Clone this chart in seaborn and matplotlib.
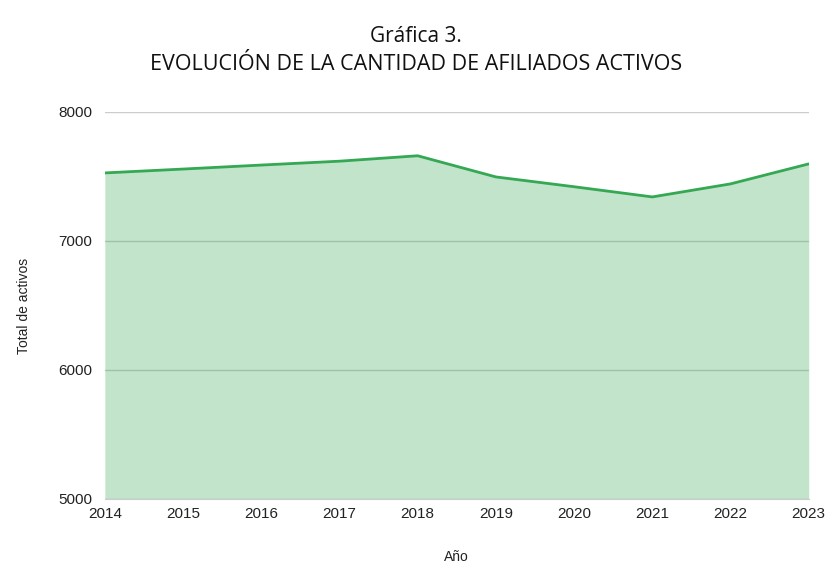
import pandas as pd
import matplotlib
matplotlib.use('Agg')
import matplotlib.pyplot as plt
import seaborn as sns

years = [2014, 2015, 2016, 2017, 2018, 2019, 2020, 2021, 2022, 2023]
activos = [7527, 7557, 7588, 7618, 7660, 7496, 7420, 7341, 7442, 7597]
yticks = [5000, 6000, 7000, 8000]

df = pd.DataFrame({'Año': years, 'Total de activos': activos})

sns.set_style('white')
plt.rcParams['font.family'] = ['Liberation Sans', 'DejaVu Sans']

verde = '#34a853'
fig = plt.figure(figsize=(8.32, 5.68), dpi=100)
ax = fig.add_axes([0.126, 0.1215, 0.846, 0.6815])

# area under the line
ax.fill_between(df['Año'], df['Total de activos'], 5000, color=verde, alpha=0.3, lw=0, zorder=2)
sns.lineplot(data=df, x='Año', y='Total de activos', color=verde, lw=2, ax=ax, zorder=3)

ax.set_xlim(2014, 2023)
ax.set_ylim(5000, 8000)
ax.set_xticks(years)
ax.set_yticks(yticks)
ax.grid(axis='y', color='#cccccc', lw=1, zorder=1)
ax.set_axisbelow(True)
for s in ['top', 'right', 'left']:
    ax.spines[s].set_visible(False)
ax.spines['bottom'].set_color('#cccccc')
ax.tick_params(axis='both', length=0, labelsize=11, colors='#222222')
ax.tick_params(axis='x', pad=6)
ax.tick_params(axis='y', pad=9)

ax.set_xlabel('Año', fontsize=10, color='#222222', labelpad=21)
ax.set_ylabel('Total de activos', fontsize=10, color='#222222', labelpad=20)

fig.text(0.5, 0.935, 'Gráfica 3.', ha='center', va='center', fontsize=15,
         family=['Open Sans', 'DejaVu Sans'], color='#111111')
fig.text(0.5, 0.886, 'EVOLUCIÓN DE LA CANTIDAD DE AFILIADOS ACTIVOS', ha='center', va='center',
         fontsize=15.5, family=['Open Sans', 'DejaVu Sans'], color='#111111')

fig.savefig('out.png', dpi=100)
